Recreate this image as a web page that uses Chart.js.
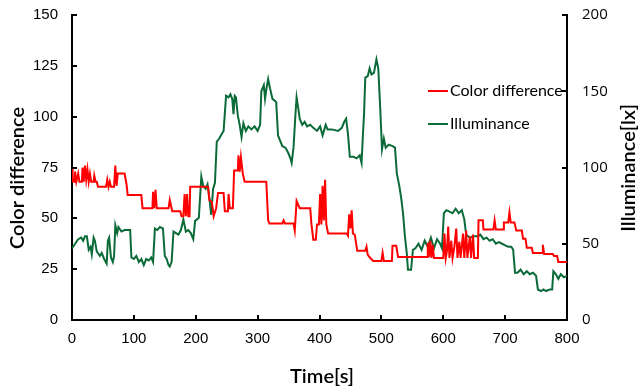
<!DOCTYPE html>
<html>
<head>
<meta charset="utf-8">
<script src="https://cdn.jsdelivr.net/npm/chart.js@4.4.1/dist/chart.umd.min.js"></script>
<style>
  html, body { margin: 0; padding: 0; background: #fff; }
  #wrap { width: 643px; height: 392px; }
</style>
</head>
<body>
<div id="wrap"><canvas id="chart"></canvas></div>
<script>
// Color difference (left axis) - time stamps and values
const timeCD = [0,1,4,5,7,10,12,16,17,19,21,23,25,27,29,31,35,36,38,40,42,55,57,59,61,63,68,70,72,74,85,88,90,112,114,130,131,133,135,137,156,158,162,175,177,180,182,184,186,188,190,191,215,220,222,226,229,233,236,245,247,252,253,255,260,262,268,269,271,273,276,279,290,314,317,319,340,342,344,358,360,363,368,385,387,390,394,396,399,401,403,405,407,409,411,414,444,446,448,450,452,454,457,461,474,476,478,482,487,500,502,504,517,518,524,527,574,575,577,579,581,583,585,600,602,604,606,608,610,613,615,618,621,623,626,628,632,634,637,639,643,645,648,650,656,657,664,665,681,683,685,697,698,705,707,709,715,718,727,729,733,735,743,745,760,761,763,777,779,784,786,800];
const colorDiff = [75,68,68,73,68,72,68,68,75,68,76,69,74,68,72,68,68,71,68,68,65.5,65.5,69,65.5,68,65.5,65.5,76,66,72,72,67,61.5,61.5,55,55,63,55,64,55,55,59,53.5,53.5,51,51,62,51,62,51,51,65.5,65.5,65.5,59,58,51,55,62.5,62.5,53.5,53.5,62,55,55,73.5,73.5,81,73,80,72,68,68,68,49,47.5,47.5,49,47.5,47.5,44,58.5,55,55,47,39.5,39.5,47,47,62,47,66,49,69,47,42.5,42.5,41.5,52,45,54,42.5,42,34,34,36,32,30.5,29,29,33,29,29,36.5,36.5,31,31,38,31,39,30.5,37,30.5,30.5,42.5,30.5,34,46,30.5,39,30.5,36,45,30.5,38.5,30.5,42.5,30.5,44,30.5,41,30.5,42,30.5,30.5,49,49,44.5,44.5,49,44.5,44.5,48,48,53,48,48,44,44,40,40,35.5,35.5,33,33,37,32.5,32.5,31.5,31.5,28.5,28.5];

// Illuminance (right axis) - time stamps and values
const timeLux = [0,5,10,15,18,21,24,27,30,32,35,37,40,45,48,52,56,58,60,63,66,68,70,73,75,80,85,90,94,96,100,104,108,112,116,120,124,128,131,134,138,142,147,150,153,156,158,161,164,168,172,176,180,184,188,192,196,199,205,209,212,216,219,222,225,228,231,234,238,242,245,249,253,256,259,261,263,265,268,271,274,277,281,285,290,295,300,304,306,310,312,314,317,320,324,330,333,336,340,345,349,353,355,358,361,363,366,368,372,376,380,385,390,396,401,405,410,413,420,430,436,440,443,446,449,455,460,465,468,470,472,474,478,481,484,488,492,495,498,501,504,507,512,518,522,525,529,532,535,538,541,543,548,551,555,560,565,570,575,580,585,590,595,598,601,605,610,615,620,625,630,634,637,643,650,656,660,665,670,675,680,685,690,695,700,705,710,713,716,720,725,730,735,740,745,750,753,758,762,766,772,776,778,782,786,790,795,800];
const illuminance = [47,50,53,54,52,55,55,46,48,43,54,52,45,42,44,40,37,52,54,41,38,42,62,57,61,58,59,59,59,41,40,42,38,40,36,40,39,41,38,60,59,61,60,42,40,36,35,38,58,57,56,59,66,58,59,57,53,65,67,94,88,86,89,80,69,86,90,117,119,122,124,147,146,148,145,135,147,146,134,128,120,129,124,127,125,127,124,128,150,154,145,151,158,152,145,143,121,118,114,113,110,106,103,113,134,146,138,132,128,130,127,128,126,124,127,121,128,125,125,124,126,130,132,122,107,107,106,108,103,120,135,159,160,165,161,162,171,165,140,112,119,113,115,114,113,96,88,80,70,55,44,33,33,46,47,50,46,52,48,54,47,53,50,47,70,72,71,70,73,70,72,66,56,54,55,55,56,53,54,52,53,50,51,50,49,48,48,46,31,31,33,30,32,30,31,29,20,19,20,19,20,20,32,30,27,30,28,29];

// Axis tick settings
const xTicks = [0, 100, 200, 300, 400, 500, 600, 700, 800];
const leftTicks = [0, 25, 50, 75, 100, 125, 150];
const rightTicks = [0, 50, 100, 150, 200];

const toPoints = (xs, ys) => xs.map((x, i) => ({ x: x, y: ys[i] }));

// fixed axis sizes so the plot box lands where the original one is
function fixBox(size) {
    return s => {
        if (s.isHorizontal()) s.height = size; else s.width = size;
        s.paddingTop = 0;
        s.paddingBottom = 0;
        s.paddingLeft = 0;
        s.paddingRight = 0;
    };
}

// Draws inward tick marks, axis titles and the in-plot legend
const extrasPlugin = {
    id: 'extras',
    afterDraw(chart) {
        const ctx = chart.ctx;
        const area = chart.chartArea;
        const sx = chart.scales.x, sl = chart.scales.y, sr = chart.scales.y1;
        ctx.save();
        ctx.strokeStyle = '#000';
        ctx.lineWidth = 2;
        ctx.beginPath();
        xTicks.forEach(v => {
            const px = Math.round(sx.getPixelForValue(v));
            ctx.moveTo(px, area.bottom);
            ctx.lineTo(px, area.bottom - 5);
        });
        leftTicks.forEach(v => {
            const py = Math.round(sl.getPixelForValue(v));
            ctx.moveTo(area.left, py);
            ctx.lineTo(area.left + 5, py);
        });
        rightTicks.forEach(v => {
            const py = Math.round(sr.getPixelForValue(v));
            ctx.moveTo(area.right, py);
            ctx.lineTo(area.right - 5, py);
        });
        ctx.stroke();

        // axis titles
        ctx.fillStyle = '#000';
        ctx.textAlign = 'center';
        ctx.textBaseline = 'middle';
        ctx.font = '600 20px Lato, "Open Sans", sans-serif';
        ctx.fillText('Time[s]', 322, 377);
        ctx.save();
        ctx.translate(18, 178);
        ctx.rotate(-Math.PI / 2);
        ctx.fillText('Color difference', 0, 0);
        ctx.restore();
        ctx.save();
        ctx.translate(629, 168);
        ctx.rotate(-Math.PI / 2);
        ctx.fillText('Illuminance[lx]', 0, 0);
        ctx.restore();

        // legend
        ctx.textAlign = 'left';
        ctx.font = '16px Lato, "Open Sans", sans-serif';
        chart.data.datasets.forEach((ds, i) => {
            const y = 91 + i * 33;
            ctx.strokeStyle = ds.borderColor;
            ctx.lineWidth = 2;
            ctx.beginPath();
            ctx.moveTo(428, y);
            ctx.lineTo(448, y);
            ctx.stroke();
            ctx.fillStyle = '#000';
            ctx.fillText(ds.label, 450, y);
        });
        ctx.restore();
    }
};

new Chart(document.getElementById('chart'), {
    type: 'line',
    data: {
        datasets: [{
            label: 'Color difference',
            data: toPoints(timeCD, colorDiff),
            borderColor: '#ff0000',
            borderWidth: 2,
            pointRadius: 0,
            fill: false,
            tension: 0,
            yAxisID: 'y'
        }, {
            label: 'Illuminance',
            data: toPoints(timeLux, illuminance),
            borderColor: '#0b6b38',
            borderWidth: 2,
            pointRadius: 0,
            fill: false,
            tension: 0,
            yAxisID: 'y1'
        }]
    },
    options: {
        responsive: true,
        maintainAspectRatio: false,
        animation: false,
        layout: { padding: { top: 15, left: 0, right: 0, bottom: 0 } },
        plugins: {
            legend: { display: false },
            tooltip: { enabled: false }
        },
        scales: {
            x: {
                type: 'linear',
                min: 0,
                max: 800,
                afterFit: fixBox(72),
                afterBuildTicks: s => { s.ticks = xTicks.map(v => ({ value: v })); },
                grid: { display: false, drawTicks: false },
                border: { display: true, color: '#000', width: 2 },
                ticks: { color: '#000', padding: 10, maxRotation: 0, font: { family: '"Liberation Sans", Arial, sans-serif', size: 15 } }
            },
            y: {
                position: 'left',
                min: 0,
                max: 150,
                afterFit: fixBox(72),
                afterBuildTicks: s => { s.ticks = leftTicks.map(v => ({ value: v })); },
                grid: { display: false, drawTicks: false },
                border: { display: true, color: '#000', width: 2 },
                ticks: { color: '#000', padding: 14, font: { family: '"Liberation Sans", Arial, sans-serif', size: 15 } }
            },
            y1: {
                position: 'right',
                min: 0,
                max: 200,
                afterFit: fixBox(76),
                afterBuildTicks: s => { s.ticks = rightTicks.map(v => ({ value: v })); },
                grid: { display: false, drawTicks: false },
                border: { display: true, color: '#000', width: 2 },
                ticks: { color: '#000', padding: 15, font: { family: '"Open Sans", sans-serif', size: 15 } }
            }
        }
    },
    plugins: [extrasPlugin]
});
</script>
</body>
</html>
